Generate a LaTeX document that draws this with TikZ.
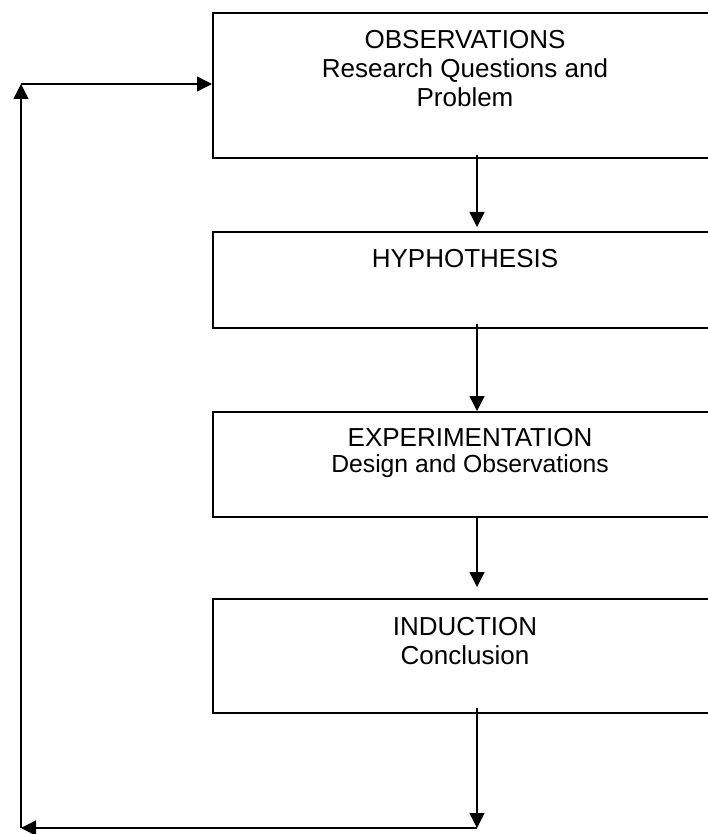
\documentclass[tikz,border=0pt]{standalone}
\usepackage{fontspec}
\setmainfont{Liberation Sans}
\usetikzlibrary{arrows.meta}
\begin{document}
\begin{tikzpicture}[x=1pt,y=-1pt,
  stagebox/.style={draw=black, line width=1.6pt, anchor=north west, inner sep=0pt, minimum width=540pt},
  label/.style={anchor=base, inner sep=0pt, font=\fontsize{26}{26}\selectfont},
  small label/.style={label, font=\fontsize{24.7}{25}\selectfont},
  flow/.style={line width=1.4pt, -{Triangle[width=15pt,length=15pt]}}]
\useasboundingbox (0,0) rectangle (708,834);
\clip (0,0) rectangle (708,834);
% stage boxes (running off the right edge)
\node[stagebox, minimum height=145pt] (obs) at (212,12) {};
\node[stagebox, minimum height=96pt] (hyp) at (212,231) {};
\node[stagebox, minimum height=105pt] (exp) at (212,411) {};
\node[stagebox, minimum height=114pt] (ind) at (212,598) {};
% box texts
\node[label] (t1) at (465,49) {OBSERVATIONS};
\node[label] (t2) at (465,78) {Research Questions and};
\node[label] (t3) at (465,107) {Problem};
\node[label] (t4) at (465,267) {HYPHOTHESIS};
\node[label] (t5) at (470,446) {EXPERIMENTATION};
\node[small label] (t6) at (470,472) {Design and Observations};
\node[label] (t7) at (465,635) {INDUCTION};
\node[label] (t8) at (465,664) {Conclusion};
% connector ends
\coordinate (a1s) at (477,155);
\coordinate (a1e) at (477,227);
\coordinate (a2s) at (477,324);
\coordinate (a2e) at (477,411);
\coordinate (a3s) at (477,516);
\coordinate (a3e) at (477,587);
\coordinate (a4s) at (477,708);
\coordinate (corner) at (477,828);
\coordinate (back) at (21,828);
\coordinate (top) at (21,84);
% downward flow
\draw[flow] (a1s) -- (a1e);
\draw[flow] (a2s) -- (a2e);
\draw[flow] (a3s) -- (a3e);
\draw[flow] (a4s) -- (corner);
% feedback loop
\draw[flow] (corner) -- (back);
\draw[flow] (back) -- (top);
\draw[flow] (top) -- (top -| obs.west);
\end{tikzpicture}
\end{document}
